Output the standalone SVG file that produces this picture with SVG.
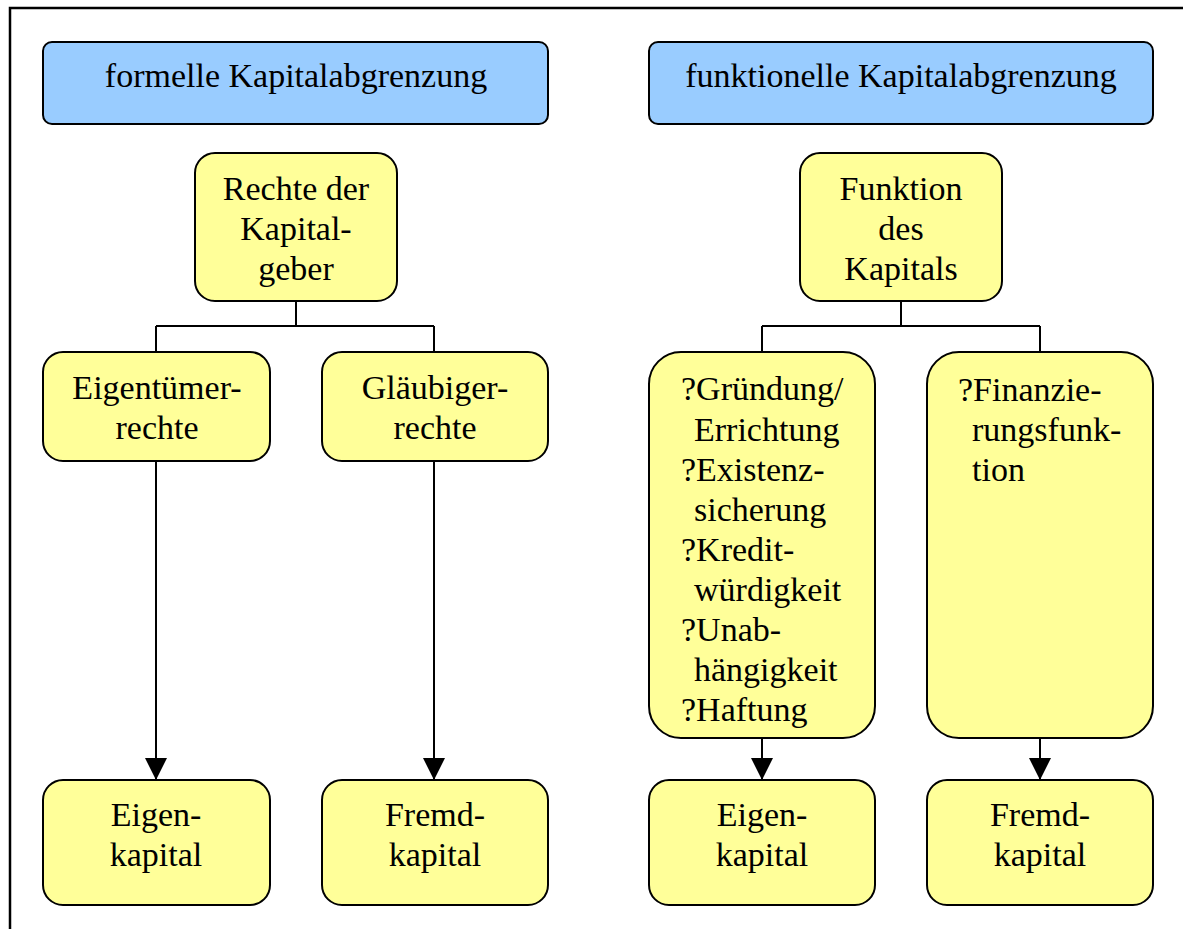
<svg xmlns="http://www.w3.org/2000/svg" width="1183" height="929" viewBox="0 0 1183 929">
<defs>
<style>
text{font-family:'Liberation Serif', 'Times New Roman', Times, serif;font-size:34px;fill:#000}
.c{text-anchor:middle}
.blue{fill:#99CCFF;stroke:#000;stroke-width:2}
.yel{fill:#FFFF99;stroke:#000;stroke-width:2}
.ln{fill:none;stroke:#000;stroke-width:2}
</style>
<marker id="ah" markerWidth="22" markerHeight="22" refX="22" refY="11" orient="auto" markerUnits="userSpaceOnUse">
<path d="M0,0 L22,11 L0,22 Z" fill="#000"/>
</marker>
</defs>
<rect width="1183" height="929" fill="#fff"/>
<g id="frame"><path d="M10,929 L10,8 L1183,8" fill="none" stroke="#000" stroke-width="2.5"/></g>

<g id="connectors">
<path class="ln" d="M296,301 V326 M156,326 H434 M156,326 V352 M434,326 V352"/>
<path class="ln" d="M901,301 V326 M762,326 H1040 M762,326 V352 M1040,326 V352"/>
<path class="ln" d="M156,461 V780" marker-end="url(#ah)"/>
<path class="ln" d="M434,461 V780" marker-end="url(#ah)"/>
<path class="ln" d="M762,738 V780" marker-end="url(#ah)"/>
<path class="ln" d="M1040,738 V780" marker-end="url(#ah)"/>
</g>

<g id="formell">
<rect class="blue" x="43" y="42" width="505" height="82" rx="9"/>
<text class="c" x="296" y="87">formelle Kapitalabgrenzung</text>
</g>
<g id="funktionell">
<rect class="blue" x="649" y="42" width="504" height="82" rx="9"/>
<text class="c" x="901" y="87">funktionelle Kapitalabgrenzung</text>
</g>

<g id="rechte">
<rect class="yel" x="195" y="153" width="202" height="148" rx="20"/>
<text class="c" x="296" y="200">Rechte der</text>
<text class="c" x="296" y="240">Kapital-</text>
<text class="c" x="296" y="280">geber</text>
</g>
<g id="eigentuemer">
<rect class="yel" x="43" y="352" width="227" height="109" rx="20"/>
<text class="c" x="157" y="399">Eigentümer-</text>
<text class="c" x="157" y="439">rechte</text>
</g>
<g id="glaeubiger">
<rect class="yel" x="322" y="352" width="226" height="109" rx="20"/>
<text class="c" x="435" y="399">Gläubiger-</text>
<text class="c" x="435" y="439">rechte</text>
</g>
<g id="eigenkapital1">
<rect class="yel" x="43" y="780" width="227" height="125" rx="20"/>
<text class="c" x="156" y="826">Eigen-</text>
<text class="c" x="156" y="866">kapital</text>
</g>
<g id="fremdkapital1">
<rect class="yel" x="322" y="780" width="226" height="125" rx="20"/>
<text class="c" x="435" y="826">Fremd-</text>
<text class="c" x="435" y="866">kapital</text>
</g>

<g id="funktion">
<rect class="yel" x="800" y="153" width="202" height="148" rx="20"/>
<text class="c" x="901" y="200">Funktion</text>
<text class="c" x="901" y="240">des</text>
<text class="c" x="901" y="280">Kapitals</text>
</g>
<g id="gruendung">
<rect class="yel" x="649" y="352" width="226" height="386" rx="32"/>
<text x="681" y="400">?Gründung/</text>
<text x="694" y="441">Errichtung</text>
<text x="681" y="481">?Existenz-</text>
<text x="694" y="521">sicherung</text>
<text x="681" y="561">?Kredit-</text>
<text x="694" y="601">würdigkeit</text>
<text x="681" y="641">?Unab-</text>
<text x="694" y="681">hängigkeit</text>
<text x="681" y="721">?Haftung</text>
</g>
<g id="finanzierung">
<rect class="yel" x="927" y="352" width="226" height="386" rx="32"/>
<text x="958" y="401">?Finanzie-</text>
<text x="972" y="441">rungsfunk-</text>
<text x="972" y="481">tion</text>
</g>
<g id="eigenkapital2">
<rect class="yel" x="649" y="780" width="226" height="125" rx="20"/>
<text class="c" x="762" y="826">Eigen-</text>
<text class="c" x="762" y="866">kapital</text>
</g>
<g id="fremdkapital2">
<rect class="yel" x="927" y="780" width="226" height="125" rx="20"/>
<text class="c" x="1040" y="826">Fremd-</text>
<text class="c" x="1040" y="866">kapital</text>
</g>
</svg>
